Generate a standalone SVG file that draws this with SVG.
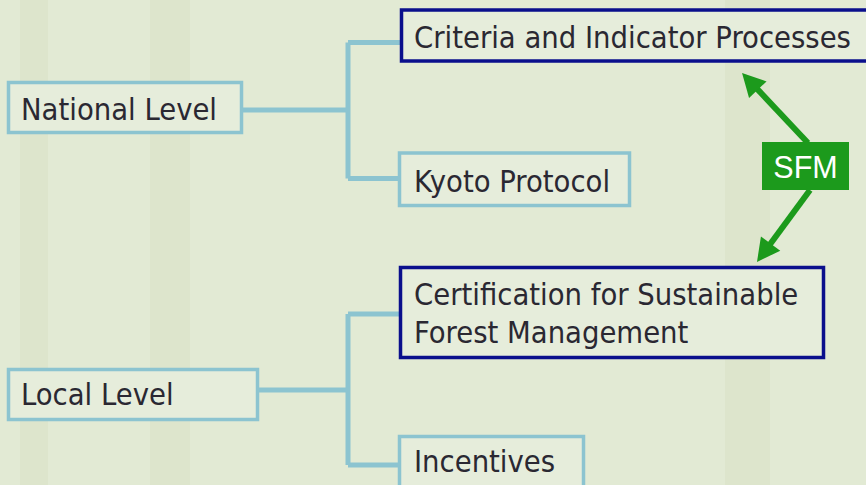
<svg xmlns="http://www.w3.org/2000/svg" width="866" height="485" viewBox="0 0 866 485">
<defs>
<style>
.bg{fill:#e2ead4}
.stalk{fill:#d6e1c4;opacity:0.45}
.lb{fill:#e6eddb;stroke:#8cc4d0;stroke-width:3.5}
.nv{fill:#e6eddb;stroke:#0a0f8c;stroke-width:3.5}
.t{font-family:"DejaVu Sans Condensed","Liberation Sans",sans-serif;font-stretch:condensed;font-size:30.6px;fill:#2a2832}
.conn{fill:none;stroke:#8cc4d0;stroke-width:5;stroke-linejoin:miter}
.gr{fill:none;stroke:#1c9a1c;stroke-width:6}
.sfmbox{fill:#1c9a1c}
.sfm{font-family:"Liberation Sans",Arial,sans-serif;font-size:30.5px;fill:#ffffff}
</style>
<marker id="ah" markerUnits="userSpaceOnUse" markerWidth="26" markerHeight="26" viewBox="-24 -13 26 26" refX="-10" refY="0" orient="auto">
<path d="M0,0 L-23,-12 L-23,12 z" fill="#1c9a1c"/>
</marker>
</defs>
<rect class="bg" x="0" y="0" width="866" height="485"/>
<g id="background">
<rect class="stalk" x="20" y="0" width="28" height="485"/>
<rect class="stalk" x="150" y="0" width="40" height="485"/>
<rect class="stalk" x="725" y="0" width="45" height="485"/>
</g>
<g id="connectors">
<path class="conn" d="M243,110 H348 M348,42.5 V178.5 M348,42.5 H400 M348,178.5 H400"/>
<path class="conn" d="M259,390 H348 M348,314 V465 M348,314 H400 M348,465 H400"/>
<line class="gr" x1="808" y1="143" x2="748.9" y2="80.2" marker-end="url(#ah)"/>
<line class="gr" x1="810" y1="190" x2="762.9" y2="254" marker-end="url(#ah)"/>
</g>
<g id="national">
<rect class="lb" x="8.5" y="82.5" width="233" height="50"/>
<text class="t" x="21" y="120">National Level</text>
</g>
<g id="criteria">
<rect class="nv" x="401.5" y="10" width="470" height="51"/>
<text class="t" x="414" y="48">Criteria and Indicator Processes</text>
</g>
<g id="kyoto">
<rect class="lb" x="399.5" y="153" width="230" height="52.5"/>
<text class="t" x="414" y="192">Kyoto Protocol</text>
</g>
<g id="certification">
<rect class="nv" x="400.5" y="267.5" width="423" height="90"/>
<text class="t" x="414" y="305">Certification for Sustainable</text>
<text class="t" x="414" y="343">Forest Management</text>
</g>
<g id="local">
<rect class="lb" x="8.5" y="369.5" width="249" height="50"/>
<text class="t" x="21" y="405">Local Level</text>
</g>
<g id="incentives">
<rect class="lb" x="399.5" y="436.5" width="184" height="60"/>
<text class="t" x="414" y="472">Incentives</text>
</g>
<g id="sfm">
<rect class="sfmbox" x="762" y="142" width="87" height="48"/>
<text class="sfm" x="805.5" y="178" text-anchor="middle">SFM</text>
</g>
</svg>
